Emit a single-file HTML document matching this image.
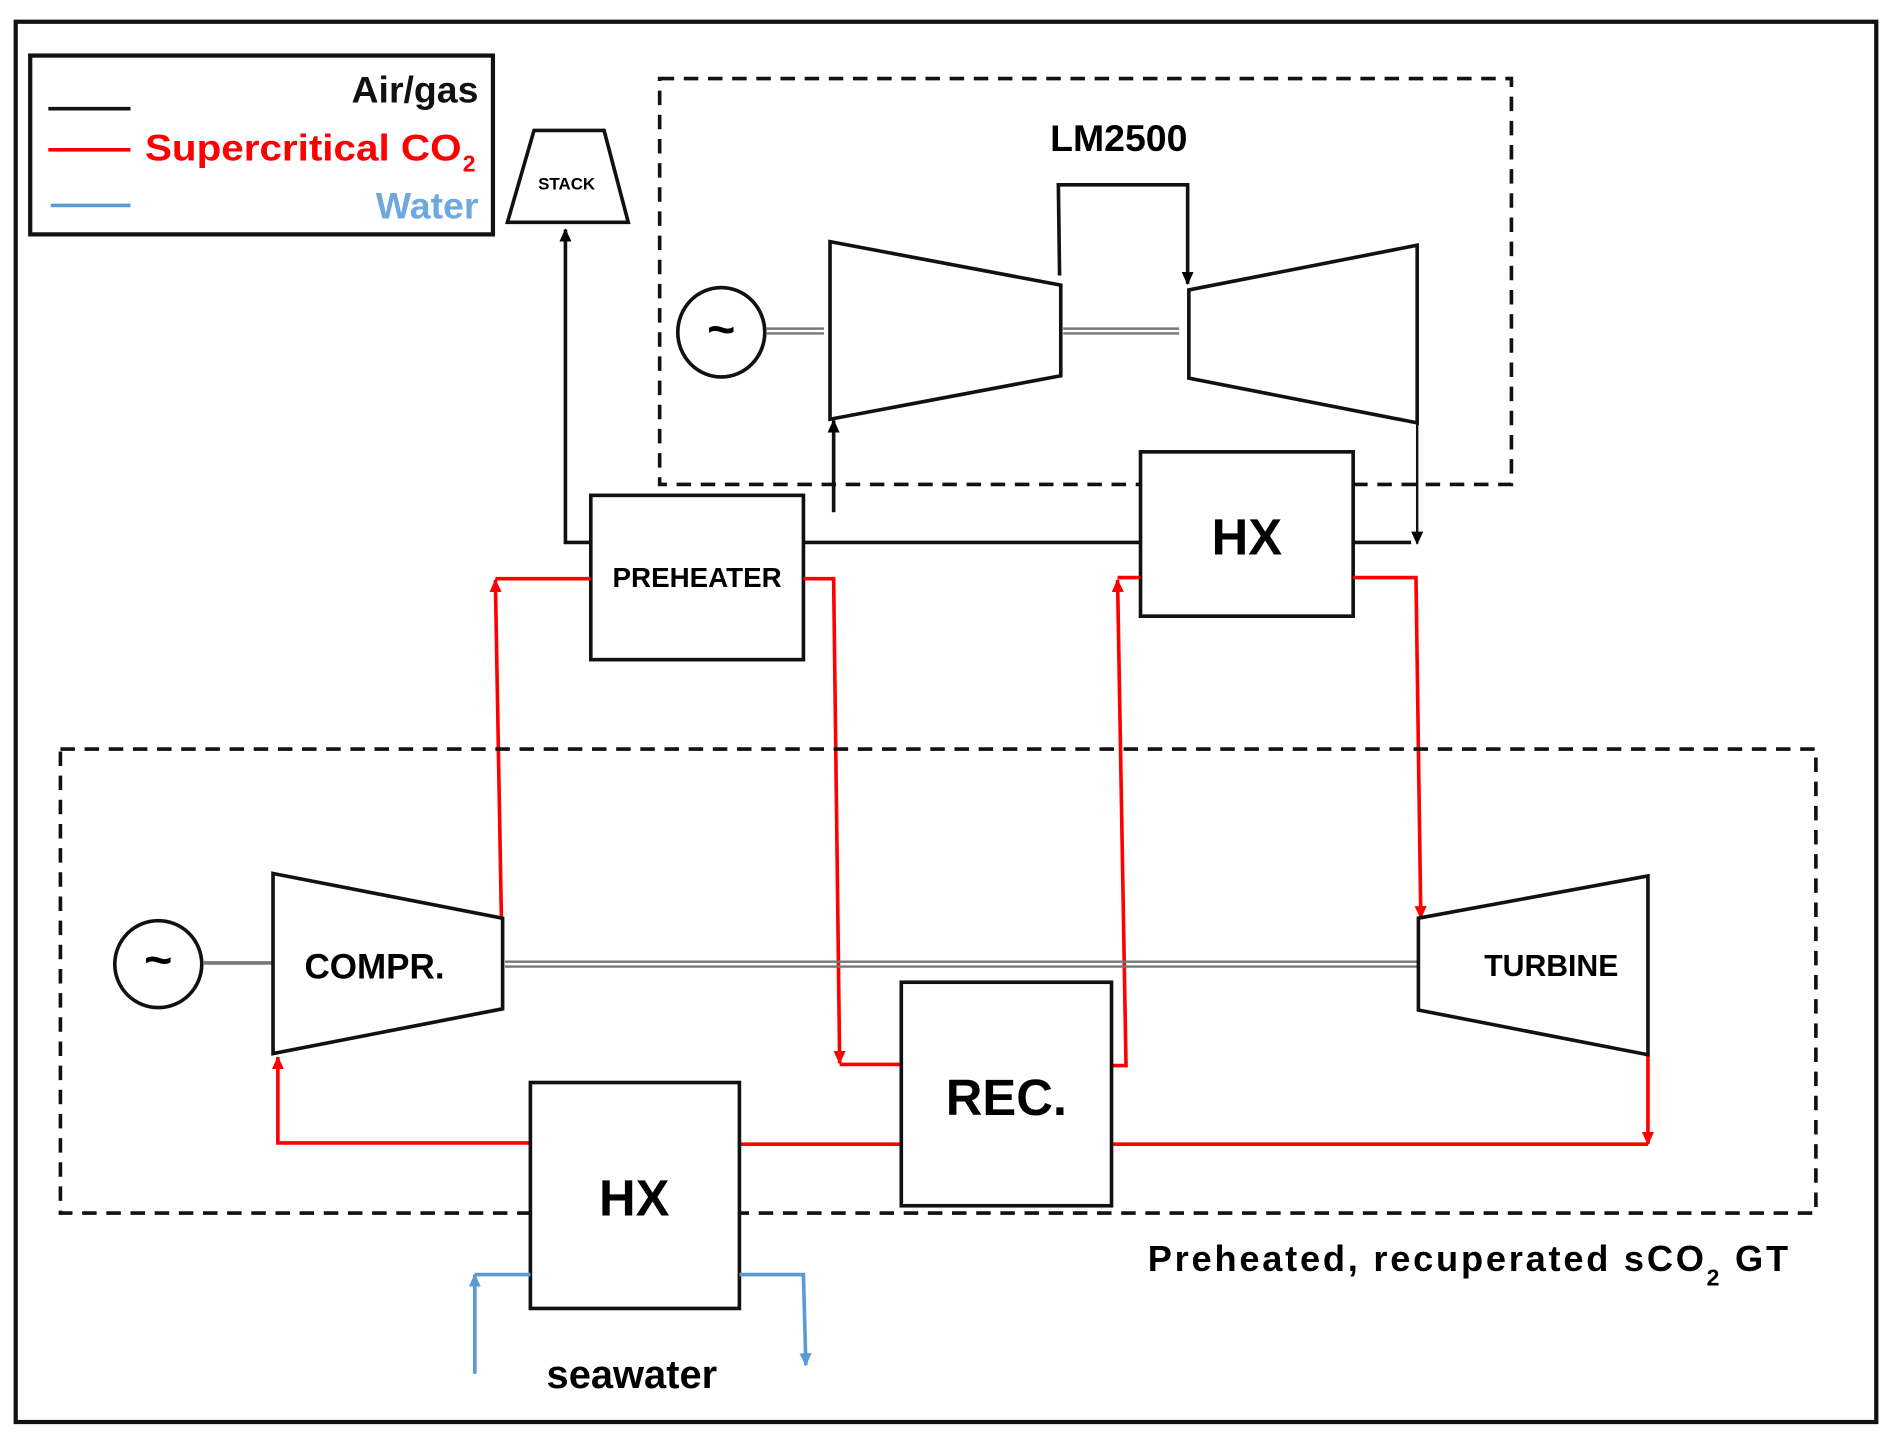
<!DOCTYPE html>
<html><head><meta charset="utf-8"><style>
html,body{margin:0;padding:0;background:#fff;}
svg{display:block;}
text{font-family:"Liberation Sans",sans-serif;font-weight:bold;}
</style></head><body>
<svg width="1892" height="1437" viewBox="0 0 1566 1189.4" preserveAspectRatio="none" xmlns="http://www.w3.org/2000/svg">
<defs>
<marker id="ak" markerWidth="12" markerHeight="12" refX="10" refY="5" orient="auto" markerUnits="userSpaceOnUse"><path d="M0,0 L11,5 L0,10 z" fill="#000"/></marker>
<marker id="ar" markerWidth="12" markerHeight="12" refX="10" refY="5" orient="auto" markerUnits="userSpaceOnUse"><path d="M0,0 L11,5 L0,10 z" fill="#f00"/></marker>
<marker id="ab" markerWidth="12" markerHeight="12" refX="10" refY="5" orient="auto" markerUnits="userSpaceOnUse"><path d="M0,0 L11,5 L0,10 z" fill="#5b9bd5"/></marker>
</defs>
<rect x="0" y="0" width="1566" height="1190" fill="#fff"/>
<rect x="13" y="18" width="1540" height="1159" fill="none" stroke="#111" stroke-width="3.5"/>
<!-- legend -->
<rect x="25" y="46" width="383" height="148" fill="none" stroke="#111" stroke-width="3.5"/>
<line x1="40" y1="90" x2="108" y2="90" stroke="#111" stroke-width="3"/>
<line x1="40" y1="124" x2="108" y2="124" stroke="#f00" stroke-width="3"/>
<line x1="42" y1="170" x2="108" y2="170" stroke="#5b9bd5" stroke-width="3"/>
<text x="396" y="85" font-size="31" text-anchor="end" fill="#111">Air/gas</text>
<text x="120" y="133" font-size="31" fill="#f00" textLength="262" lengthAdjust="spacingAndGlyphs">Supercritical CO</text>
<text x="383" y="142" font-size="19" fill="#f00">2</text>
<text x="396" y="181" font-size="31" text-anchor="end" fill="#6fa8dc">Water</text>
<!-- stack -->
<polygon points="442,108 500,108 520,184 420,184" fill="none" stroke="#111" stroke-width="3"/>
<text x="469" y="157" font-size="14" text-anchor="middle">STACK</text>
<!-- top dashed box -->
<rect x="546" y="65" width="705" height="336" fill="none" stroke="#111" stroke-width="3" stroke-dasharray="12,8"/>
<text x="926" y="125" font-size="31" text-anchor="middle">LM2500</text>
<ellipse cx="597" cy="275" rx="36" ry="37" fill="none" stroke="#111" stroke-width="3"/>
<text x="597" y="286" font-size="40" text-anchor="middle">~</text>
<line x1="634" y1="272" x2="682" y2="272" stroke="#777" stroke-width="2"/>
<line x1="634" y1="276" x2="682" y2="276" stroke="#777" stroke-width="2"/>
<polygon points="687,200 878,236 878,311 687,347" fill="none" stroke="#111" stroke-width="3"/>
<line x1="880" y1="272" x2="976" y2="272" stroke="#777" stroke-width="2"/>
<line x1="880" y1="276" x2="976" y2="276" stroke="#777" stroke-width="2"/>
<polygon points="984,240 1173,203 1173,350 984,313" fill="none" stroke="#111" stroke-width="3"/>
<polyline points="877,228 876,153 983,153 983,235" fill="none" stroke="#111" stroke-width="3" marker-end="url(#ak)"/>
<line x1="690" y1="424" x2="690" y2="348" stroke="#111" stroke-width="3" marker-end="url(#ak)"/>
<line x1="1173" y1="350" x2="1173" y2="450" stroke="#111" stroke-width="2" marker-end="url(#ak)"/>
<!-- top HX -->
<rect x="944" y="374" width="176" height="136" fill="#fff" stroke="#111" stroke-width="3"/>
<text x="1032" y="459" font-size="42" text-anchor="middle">HX</text>
<line x1="665" y1="449" x2="944" y2="449" stroke="#111" stroke-width="3"/>
<line x1="1120" y1="449" x2="1168" y2="449" stroke="#111" stroke-width="3"/>
<!-- preheater -->
<rect x="489" y="410" width="176" height="136" fill="#fff" stroke="#111" stroke-width="3"/>
<text x="577" y="486" font-size="23" text-anchor="middle">PREHEATER</text>
<polyline points="489,449 468,449 468,190" fill="none" stroke="#111" stroke-width="3" marker-end="url(#ak)"/>
<!-- red lines -->
<polyline points="415,760 410,480" fill="none" stroke="#f00" stroke-width="3" marker-end="url(#ar)"/>
<line x1="410" y1="479" x2="489" y2="479" stroke="#f00" stroke-width="3"/>
<polyline points="665,479 690,479 695,880" fill="none" stroke="#f00" stroke-width="3" marker-end="url(#ar)"/>
<line x1="695" y1="881" x2="746" y2="881" stroke="#f00" stroke-width="3"/>
<polyline points="920,882 932,882 925,480" fill="none" stroke="#f00" stroke-width="3" marker-end="url(#ar)"/>
<line x1="925" y1="478" x2="944" y2="478" stroke="#f00" stroke-width="3"/>
<polyline points="1120,478 1172,478 1176,760" fill="none" stroke="#f00" stroke-width="3" marker-end="url(#ar)"/>
<line x1="1364" y1="873" x2="1364" y2="947" stroke="#f00" stroke-width="3" marker-end="url(#ar)"/>
<line x1="1364" y1="947" x2="920" y2="947" stroke="#f00" stroke-width="3"/>
<line x1="746" y1="947" x2="612" y2="947" stroke="#f00" stroke-width="3"/>
<polyline points="439,946 230,946 230,875" fill="none" stroke="#f00" stroke-width="3" marker-end="url(#ar)"/>
<!-- bottom dashed box -->
<rect x="50" y="620" width="1453" height="384" fill="none" stroke="#111" stroke-width="3" stroke-dasharray="12,8"/>
<!-- sCO2 components -->
<ellipse cx="131" cy="798" rx="36" ry="36" fill="none" stroke="#111" stroke-width="3"/>
<text x="131" y="808" font-size="40" text-anchor="middle">~</text>
<line x1="168" y1="797" x2="226" y2="797" stroke="#777" stroke-width="3"/>
<polygon points="226,723 416,760 416,835 226,872" fill="#fff" stroke="#111" stroke-width="3"/>
<text x="310" y="810" font-size="29" text-anchor="middle">COMPR.</text>
<line x1="418" y1="796" x2="1174" y2="796" stroke="#777" stroke-width="2"/>
<line x1="418" y1="800" x2="1174" y2="800" stroke="#777" stroke-width="2"/>
<polygon points="1174,760 1364,725 1364,873 1174,836" fill="#fff" stroke="#111" stroke-width="3"/>
<text x="1284" y="808" font-size="25" text-anchor="middle">TURBINE</text>
<rect x="746" y="813" width="174" height="185" fill="#fff" stroke="#111" stroke-width="3"/>
<text x="833" y="923" font-size="42" text-anchor="middle">REC.</text>
<rect x="439" y="896" width="173" height="187" fill="#fff" stroke="#111" stroke-width="3"/>
<text x="525" y="1006" font-size="42" text-anchor="middle">HX</text>
<!-- water -->
<polyline points="393,1137 393,1055" fill="none" stroke="#5b9bd5" stroke-width="3" marker-end="url(#ab)"/>
<line x1="393" y1="1055" x2="439" y2="1055" stroke="#5b9bd5" stroke-width="3"/>
<polyline points="612,1055 665,1055 667,1130" fill="none" stroke="#5b9bd5" stroke-width="3" marker-end="url(#ab)"/>
<text x="523" y="1149" font-size="33" text-anchor="middle">seawater</text>
<text x="950" y="1052" font-size="30" textLength="530" lengthAdjust="spacing">Preheated, recuperated sCO<tspan font-size="19" dy="12">2</tspan><tspan dy="-12"> GT</tspan></text>
</svg>
</body></html>
